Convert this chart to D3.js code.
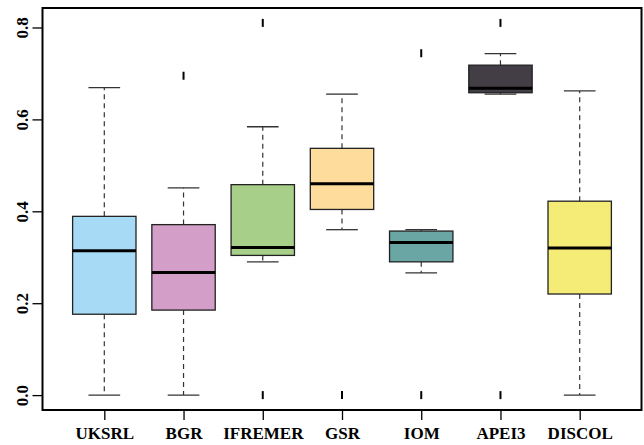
<!DOCTYPE html>
<html>
<head>
<meta charset="utf-8">
<script src="https://cdn.jsdelivr.net/npm/d3@7"></script>
<style>
  html, body { margin: 0; padding: 0; background: #fff; }
  svg { display: block; }
  text { font-family: "Liberation Serif", "Times New Roman", serif; font-weight: bold; fill: #000; }
</style>
</head>
<body>
<svg id="chart" width="644" height="445"></svg>
<script>
// Sites along the x axis
const sites = ["UKSRL", "BGR", "IFREMER", "GSR", "IOM", "APEI3", "DISCOL"];
// Five-number summaries per site
const lowerWhisker = [0.000, 0.000, 0.290, 0.360, 0.266, 0.655, 0.000];
const q1           = [0.176, 0.185, 0.304, 0.404, 0.290, 0.658, 0.220];
const median       = [0.314, 0.267, 0.321, 0.460, 0.332, 0.668, 0.320];
const q3           = [0.389, 0.371, 0.458, 0.537, 0.357, 0.718, 0.422];
const upperWhisker = [0.669, 0.451, 0.584, 0.655, 0.360, 0.743, 0.662];
// Outlying points per site
const outliers = [[], [0.695], [0.810, 0.000], [0.000], [0.744, 0.000], [0.810, 0.000], []];
const fills = ["#a7dbf5", "#d39ec7", "#a8cf8a", "#fedc9b", "#6aa6a4", "#433e45", "#f5eb77"];
const yTicks = [0.0, 0.2, 0.4, 0.6, 0.8];

const svg = d3.select("#chart");
const plot = { left: 42.5, right: 641.5, top: 8, bottom: 410 };

const x = d3.scaleLinear().domain([0.22, sites.length + 0.78]).range([plot.left, plot.right]);
const y = d3.scaleLinear().domain([-0.0324, 0.8424]).range([plot.bottom, plot.top]);

const boxW = x(1.4) - x(1.0);   // half width of a box (0.4 units)
const capW = x(1.2) - x(1.0);   // half width of a whisker cap

const data = sites.map((s, i) => ({
  site: s, pos: i + 1,
  lo: lowerWhisker[i], q1: q1[i], med: median[i], q3: q3[i], hi: upperWhisker[i],
  out: outliers[i], fill: fills[i]
}));

const g = svg.append("g");

const box = g.selectAll("g.box").data(data).enter().append("g").attr("class", "box");

// dashed whiskers
box.append("line")
  .attr("x1", d => x(d.pos)).attr("x2", d => x(d.pos))
  .attr("y1", d => y(d.q3)).attr("y2", d => y(d.hi))
  .attr("stroke", "#333").attr("stroke-width", 1.2).attr("stroke-dasharray", "5,4");
box.append("line")
  .attr("x1", d => x(d.pos)).attr("x2", d => x(d.pos))
  .attr("y1", d => y(d.q1)).attr("y2", d => y(d.lo))
  .attr("stroke", "#333").attr("stroke-width", 1.2).attr("stroke-dasharray", "5,4");

// whisker caps
box.append("line")
  .attr("x1", d => x(d.pos) - capW).attr("x2", d => x(d.pos) + capW)
  .attr("y1", d => y(d.hi)).attr("y2", d => y(d.hi))
  .attr("stroke", "#333").attr("stroke-width", 1.3);
box.append("line")
  .attr("x1", d => x(d.pos) - capW).attr("x2", d => x(d.pos) + capW)
  .attr("y1", d => y(d.lo)).attr("y2", d => y(d.lo))
  .attr("stroke", "#333").attr("stroke-width", 1.3);

// interquartile boxes
box.append("rect")
  .attr("x", d => x(d.pos) - boxW)
  .attr("width", 2 * boxW)
  .attr("y", d => y(d.q3))
  .attr("height", d => y(d.q1) - y(d.q3))
  .attr("fill", d => d.fill)
  .attr("stroke", "#222").attr("stroke-width", 1.3);

// medians
box.append("line")
  .attr("x1", d => x(d.pos) - boxW).attr("x2", d => x(d.pos) + boxW)
  .attr("y1", d => y(d.med)).attr("y2", d => y(d.med))
  .attr("stroke", "#000").attr("stroke-width", 3);

// outliers drawn as short vertical bars
box.selectAll("line.out").data(d => d.out.map(v => ({ pos: d.pos, v })))
  .enter().append("line").attr("class", "out")
  .attr("x1", d => x(d.pos)).attr("x2", d => x(d.pos))
  .attr("y1", d => y(d.v) - 4).attr("y2", d => y(d.v) + 4)
  .attr("stroke", "#000").attr("stroke-width", 2);

// frame
g.append("rect")
  .attr("x", plot.left).attr("y", plot.top)
  .attr("width", plot.right - plot.left).attr("height", plot.bottom - plot.top)
  .attr("fill", "none").attr("stroke", "#000").attr("stroke-width", 2);

// x axis
const xAxis = d3.axisBottom(x)
  .tickValues(d3.range(1, sites.length + 1))
  .tickFormat(i => sites[i - 1])
  .tickSize(10).tickPadding(7);
const xg = svg.append("g").attr("transform", `translate(0,${plot.bottom})`).call(xAxis);
xg.select(".domain").remove();
xg.selectAll(".tick line").attr("stroke", "#000").attr("stroke-width", 1.3);
xg.selectAll(".tick text").style("font-size", "17px")
  .style("font-family", "'Liberation Serif', serif").style("font-weight", "bold").attr("fill", "#000");

// y axis
const yAxis = d3.axisLeft(y).tickValues(yTicks).tickFormat(d3.format(".1f")).tickSize(10).tickPadding(4);
const yg = svg.append("g").attr("transform", `translate(${plot.left},0)`).call(yAxis);
yg.select(".domain").remove();
yg.selectAll(".tick line").attr("stroke", "#000").attr("stroke-width", 1.3);
yg.selectAll(".tick text")
  .attr("x", null).attr("dy", null)
  .attr("text-anchor", "middle")
  .attr("transform", "translate(-15,0) rotate(-90)")
  .style("font-size", "17px")
  .style("font-family", "'Liberation Serif', serif").style("font-weight", "bold").attr("fill", "#000");
</script>
</body>
</html>
